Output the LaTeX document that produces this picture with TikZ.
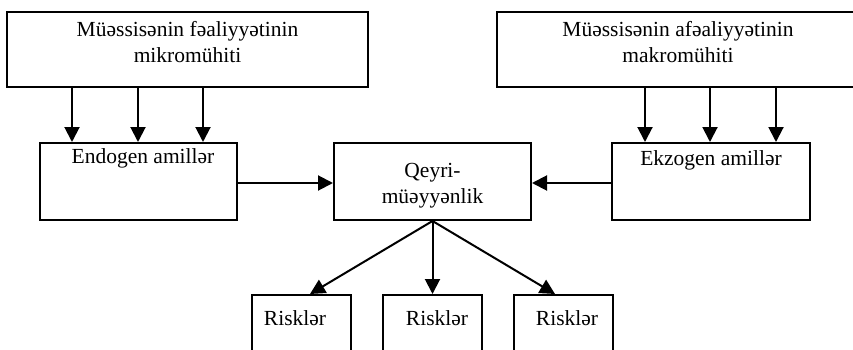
\documentclass[tikz,border=0pt]{standalone}
\usepackage{fontspec}
\setmainfont{Liberation Serif}
\usetikzlibrary{arrows.meta}
\begin{document}
\begin{tikzpicture}[x=1pt,y=1pt,
  box/.style={draw, line width=2pt, inner sep=0pt, minimum width=#1},
  arr/.style={line width=2pt, -{Triangle[length=15pt,width=15pt]}},
  lbl/.style={font=\fontsize{21.5}{26}\selectfont, align=center, anchor=base, inner sep=0pt}]
\useasboundingbox (0,0) rectangle (853,-350);
\fill[white] (0,0) rectangle (853,-350);
\clip (0,0) rectangle (853,-350);
% boxes
\node[box=361pt, minimum height=75pt] (micro) at (187.5,-49.5) {};
\node[box=362pt, minimum height=75pt] (macro) at (678,-49.5) {};
\node[box=197pt, minimum height=77pt] (endo) at (138.5,-181.5) {};
\node[box=197pt, minimum height=77pt] (qeyri) at (432.5,-181.5) {};
\node[box=198pt, minimum height=77pt] (ekzo) at (711,-181.5) {};
\node[box=99pt, minimum height=80pt] (r1) at (301.5,-335) {};
\node[box=99pt, minimum height=80pt] (r2) at (432.5,-335) {};
\node[box=99pt, minimum height=80pt] (r3) at (563.5,-335) {};
% texts
\node[lbl] (tmicro) at (187.5,-63) {Müəssisənin fəaliyyətinin\\mikromühiti};
\node[lbl] (tmacro) at (678,-63) {Müəssisənin afəaliyyətinin\\makromühiti};
\node[lbl] (tendo) at (143,-163) {Endogen amillər};
\node[lbl] (tqeyri) at (432.5,-203) {Qeyri-\\müəyyənlik};
\node[lbl] (tekzo) at (711,-165) {Ekzogen amillər};
\node[lbl] (tr1) at (295,-325) {Risklər};
\node[lbl] (tr2) at (437,-325) {Risklər};
\node[lbl] (tr3) at (567,-325) {Risklər};
% helper positions
\coordinate (a1) at (72,0);
\coordinate (a2) at (138,0);
\coordinate (a3) at (203,0);
\coordinate (b1) at (645,0);
\coordinate (b2) at (710,0);
\coordinate (b3) at (776,0);
\coordinate (c1) at (310,0);
\coordinate (c3) at (555,0);
\coordinate (h) at (0,-183);
% connectors
\draw[arr] (micro.south -| a1) -- (endo.north -| a1);
\draw[arr] (micro.south -| a2) -- (endo.north -| a2);
\draw[arr] (micro.south -| a3) -- (endo.north -| a3);
\draw[arr] (macro.south -| b1) -- (ekzo.north -| b1);
\draw[arr] (macro.south -| b2) -- (ekzo.north -| b2);
\draw[arr] (macro.south -| b3) -- (ekzo.north -| b3);
\draw[arr] (endo.east |- h) -- (qeyri.west |- h);
\draw[arr] (ekzo.west |- h) -- (qeyri.east |- h);
\draw[arr] (qeyri.south) -- (r1.north -| c1);
\draw[arr] (qeyri.south) -- (r2.north);
\draw[arr] (qeyri.south) -- (r3.north -| c3);
\end{tikzpicture}
\end{document}
